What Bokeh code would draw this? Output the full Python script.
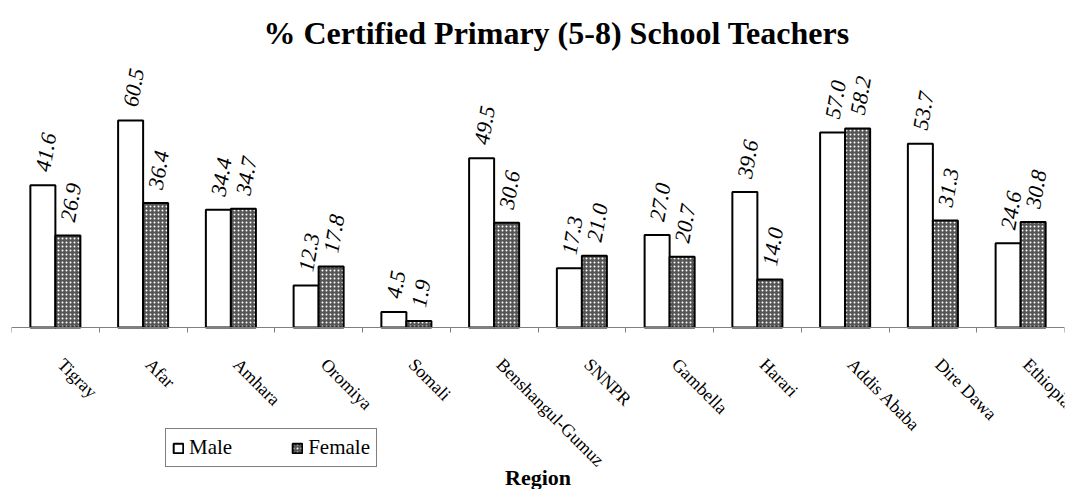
import numpy as np
from bokeh.plotting import figure
from bokeh.models import (ColumnDataSource, FixedTicker, Legend, LegendItem, Range1d,
                          LinearAxis, Label)
from bokeh.core.properties import value
from bokeh.embed import file_html
from bokeh.resources import INLINE

regions = ["Tigray", "Afar", "Amhara", "Oromiya", "Somali", "Benshangul-Gumuz",
           "SNNPR", "Gambella", "Harari", "Addis Ababa", "Dire Dawa", "Ethiopia"]
male = [41.6, 60.5, 34.4, 12.3, 4.5, 49.5, 17.3, 27.0, 39.6, 57.0, 53.7, 24.6]
female = [26.9, 36.4, 34.7, 17.8, 1.9, 30.6, 21.0, 20.7, 14.0, 58.2, 31.3, 30.8]
series_names = ["Male", "Female"]
title_text = "% Certified Primary (5-8) School Teachers"
x_title = "Region"

FONT = "Liberation Serif"
BAR_W = 0.285
LABEL_SHIFT = 0.06

idx = np.arange(len(regions))
centers = idx + 0.5
src = ColumnDataSource(dict(
    xm=centers - BAR_W / 2, xf=centers + BAR_W / 2,
    male=male, female=female,
    ml=[f"{v:.1f}" for v in male], fl=[f"{v:.1f}" for v in female],
))

p = figure(width=1082, height=489, output_backend="svg", toolbar_location=None,
           x_range=Range1d(0, len(regions)), y_range=Range1d(-47.4, 78.07),
           x_axis_location=None, y_axis_location=None,
           min_border_left=11, min_border_right=18, min_border_top=60,
           min_border_bottom=0, title=title_text)
p.title.text_font = FONT
p.title.text_font_size = "32px"
p.title.text_font_style = "bold"
p.title.align = "left"
p.title.offset = 252
p.title.standoff = 19
p.title.text_color = "black"
p.outline_line_color = None
p.grid.visible = False
p.background_fill_color = "white"
p.border_fill_color = "white"

rm = p.vbar(x="xm", top="male", width=BAR_W, source=src, fill_color="white",
            line_color="black", line_width=2)
rf = p.vbar(x="xf", top="female", width=BAR_W, source=src, fill_color="#555555",
            line_color="black", line_width=2, hatch_pattern="dot",
            hatch_color="white", hatch_scale=4, hatch_weight=1)

ang = np.deg2rad(80)
for xcol, ycol, lcol in (("xm", "male", "ml"), ("xf", "female", "fl")):
    p.text(x=xcol, y=ycol, text=lcol, source=src, angle=ang, text_align="left",
           text_baseline="middle", text_font=value(FONT), text_font_size=value("22px"),
           text_font_style="italic", text_color="black", y_offset=-14)

label_pos = centers + LABEL_SHIFT
xa = LinearAxis(fixed_location=0)
xa.ticker = FixedTicker(ticks=list(label_pos), minor_ticks=list(range(len(regions) + 1)))
xa.major_label_overrides = {float(c): r for c, r in zip(label_pos, regions)}
xa.major_label_orientation = -np.pi / 4
xa.major_label_text_font = FONT
xa.major_label_text_font_size = "18px"
xa.major_label_text_color = "black"
xa.major_label_standoff = 29
xa.major_tick_line_color = None
xa.major_tick_out = 0
xa.major_tick_in = 0
xa.minor_tick_line_color = "#808080"
xa.minor_tick_out = 5
xa.minor_tick_in = 0
xa.axis_line_color = "#808080"
p.add_layout(xa, "below")

p.add_layout(Label(x=len(regions) / 2, y=-43.8, text=x_title, text_align="center",
                   text_baseline="alphabetic", text_font=FONT, text_font_size="22px",
                   text_font_style="bold", text_color="black"))

legend = Legend(items=[LegendItem(label=series_names[0], renderers=[rm]),
                       LegendItem(label=series_names[1], renderers=[rf])],
                orientation="horizontal", location=(154, 22),
                label_text_font=FONT, label_text_font_size="21px",
                label_text_color="black", glyph_width=12, glyph_height=12,
                label_standoff=5, spacing=59, padding=6, margin=0,
                border_line_color="black", border_line_width=1,
                background_fill_alpha=1.0, label_height=21)
p.add_layout(legend, "center")

open("out.html", "w").write(file_html(p, INLINE))
